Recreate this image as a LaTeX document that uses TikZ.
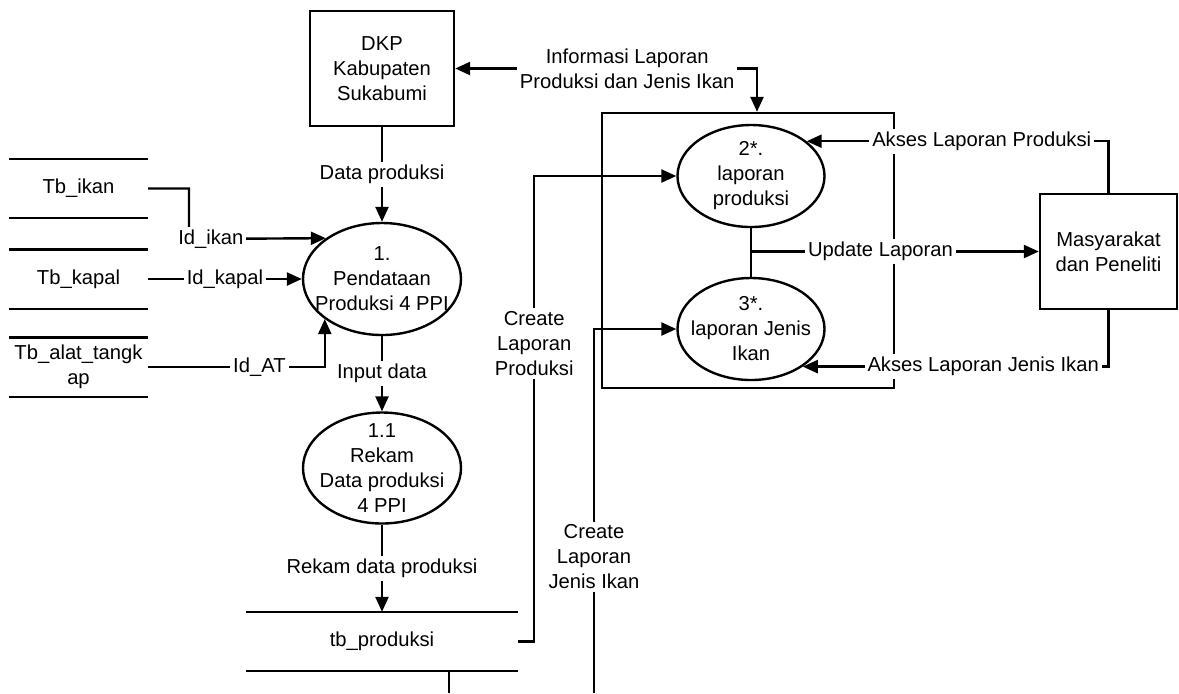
\documentclass[tikz,border=0pt]{standalone}
\usepackage{fontspec}
\setmainfont{Liberation Sans}
\usepackage{tikz}
\usetikzlibrary{calc}
\usetikzlibrary{positioning}
\usetikzlibrary{shapes.geometric}
\usetikzlibrary{arrows.meta}

\begin{document}
\begin{tikzpicture}[x=0.5pt,y=-0.5pt,line width=1.2pt,>={Triangle[length=7.5pt,width=6.5pt]},
every node/.style={font=\fontsize{10.1}{12.5}\selectfont,align=center},
proc/.style={draw,ellipse,inner sep=-10pt,minimum width=79pt,minimum height=56pt},
ent/.style={draw,rectangle,inner sep=0pt,minimum width=72pt,minimum height=57.5pt},
store/.style={inner sep=0pt,minimum width=68.5pt,minimum height=28.5pt},
lbl/.style={fill=white,inner sep=1.5pt}]

\useasboundingbox (0,0) rectangle (1179,693);

\node[draw,inner sep=0pt,minimum width=146pt,minimum height=137.5pt] (grp) at (748,250.5) {};

\node[ent] (dkp) at (382,68.5) {DKP\\Kabupaten\\Sukabumi};
\node[ent,minimum width=68.5pt] (masy) at (1108.5,251.5) {Masyarakat\\dan Peneliti};

\node[proc] (p1) at (382,279) {1.\\Pendataan\\Produksi 4 PPI};
\node[proc,minimum height=55.5pt] (p11) at (382,468) {1.1\\Rekam\\Data produksi\\4 PPI};
\node[proc,minimum width=73.5pt,minimum height=51pt] (p2) at (751,176) {2*.\\laporan\\produksi};
\node[proc,minimum width=73.5pt,minimum height=51pt] (p3) at (751,329) {3*.\\laporan Jenis\\Ikan};

\node[store] (tbikan) at (78.5,188.5) {Tb\_ikan};
\node[store] (tbkapal) at (78.5,279) {Tb\_kapal};
\node[store] (tbat) at (78.5,367) {Tb\_alat\_tangk\\ap};
\node[store,minimum width=135pt] (tbprod) at (382,641.5) {tb\_produksi};
\foreach \s in {tbikan,tbkapal,tbat,tbprod}
  \draw (\s.north west) -- (\s.north east) (\s.south west) -- (\s.south east);

\coordinate (ikanbend) at (189,239);
\coordinate (jenisbot) at (594,693);
\coordinate (prodbot) at (449,693);

\draw[<->] (dkp.east) -| node[lbl,pos=0.285] {Informasi Laporan\\Produksi dan Jenis Ikan} ($(grp.north)+(9,0)$);
\draw[->] (dkp) -- node[lbl] {Data produksi} (p1);
\draw[->] (p1) -- node[lbl] {Input data} (p11);
\draw[->] (p11) -- node[lbl] {Rekam data produksi} (tbprod.north);

\draw[->] (tbikan.east) -| (ikanbend) -- node[lbl,pos=0.16] {Id\_ikan} (p1.144);
\draw[->] (tbkapal.east) -- node[lbl] {Id\_kapal} (p1.west);
\draw[->] (tbat.east) -| node[lbl,pos=0.315] {Id\_AT} (p1.215);

\draw[->] (tbprod.east) -- ++(16,0) |- node[lbl,pos=0.32] {Create\\Laporan\\Produksi} (p2.west);
\draw[->] (jenisbot) |- node[lbl,pos=0.187] {Create\\Laporan\\Jenis Ikan} (p3.west);
\draw (prodbot |- tbprod.south) -- (prodbot);

\draw (p2) -- (p3);
\draw[->] (p2.south |- masy.west) -- node[lbl,pos=0.45] {Update Laporan} (masy.west);
\draw[->] (masy.north) |- node[lbl,pos=0.71] {Akses Laporan Produksi} (p2.32);
\draw[->] (masy.south) |- node[lbl,pos=0.705] {Akses Laporan Jenis Ikan} (p3.324);
%\draw (grp.south west) -- (grp.south east);
\end{tikzpicture}
\end{document}
